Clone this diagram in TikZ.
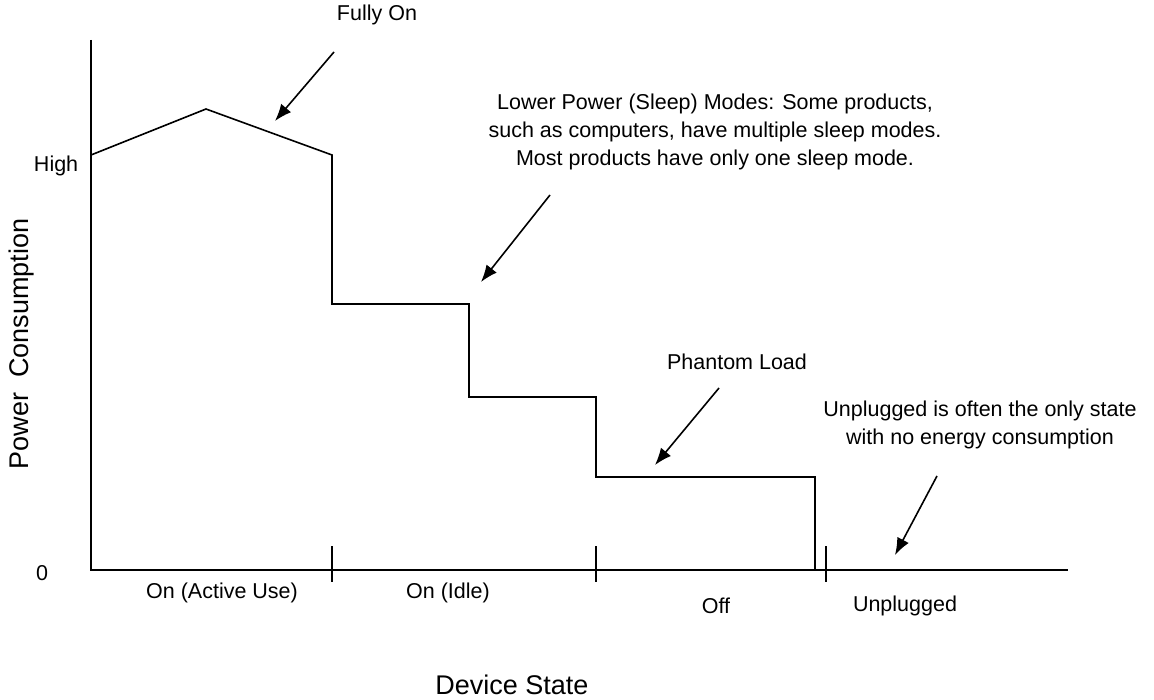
\documentclass[tikz,border=0pt]{standalone}
\usepackage{fontspec}
\setmainfont{Liberation Sans}
\usetikzlibrary{arrows.meta}

\begin{document}
\begin{tikzpicture}[x=1pt,y=-1pt,line width=1.6pt,
  lbl/.style={font=\fontsize{21.5}{28}\selectfont,inner sep=0pt,align=center},
  axislbl/.style={font=\fontsize{27}{32}\selectfont,inner sep=0pt},
  pointer/.style={-{Latex[length=17pt,width=13pt]}}]
\useasboundingbox (0,0) rectangle (1154,700);
% axes
\coordinate (ytop) at (91,40);
\coordinate (o) at (91,570);
\coordinate (xend) at (1068,570);
\draw (ytop) -- (o) -- (xend);
\foreach \x in {332,596,826}
\draw (\x,546) -- (\x,582);
% power curve
\draw (91,155) coordinate (start) -- (206,109) coordinate (peak) -- (332,155) -- (332,304)
  -- (469,304) -- (469,397) -- (596,397) -- (596,477) -- (815,477) -- (815,570) coordinate (plug);
% labels
\node[lbl] (fullyon) at (377,15) {Fully On};
\node[lbl] (sleep) at (715,132) {Lower Power (Sleep) Modes: Some products,\\such as computers, have multiple sleep modes.\\Most products have only one sleep mode.};
\node[lbl] (phantom) at (737,362) {Phantom Load};
\node[lbl] (unplug) at (980,425) {Unplugged is often the only state\\with no energy consumption};
\node[lbl,anchor=east] (high) at (79,166) {High};
\node[lbl] (zero) at (42,573) {0};
\node[axislbl,rotate=90] (ylab) at (22,344) {Power\ \ Consumption};
\node[lbl] (active) at (222,593) {On (Active Use)};
\node[lbl] (idle) at (448,593) {On (Idle)};
\node[lbl] (off) at (716,606) {Off};
\node[lbl] (unplugged) at (905,606) {Unplugged};
\node[axislbl] (xlab) at (512,685) {Device State};
% pointers
\coordinate (a1) at (334,52);   \coordinate (b1) at (275,121);
\coordinate (a2) at (550,195);  \coordinate (b2) at (481,282);
\coordinate (a3) at (719,388);  \coordinate (b3) at (655,465);
\coordinate (a4) at (937,476);  \coordinate (b4) at (895,555);
\draw[pointer] (a1) -- (b1);
\draw[pointer] (a2) -- (b2);
\draw[pointer] (a3) -- (b3);
\draw[pointer] (a4) -- (b4);
\end{tikzpicture}
\end{document}
